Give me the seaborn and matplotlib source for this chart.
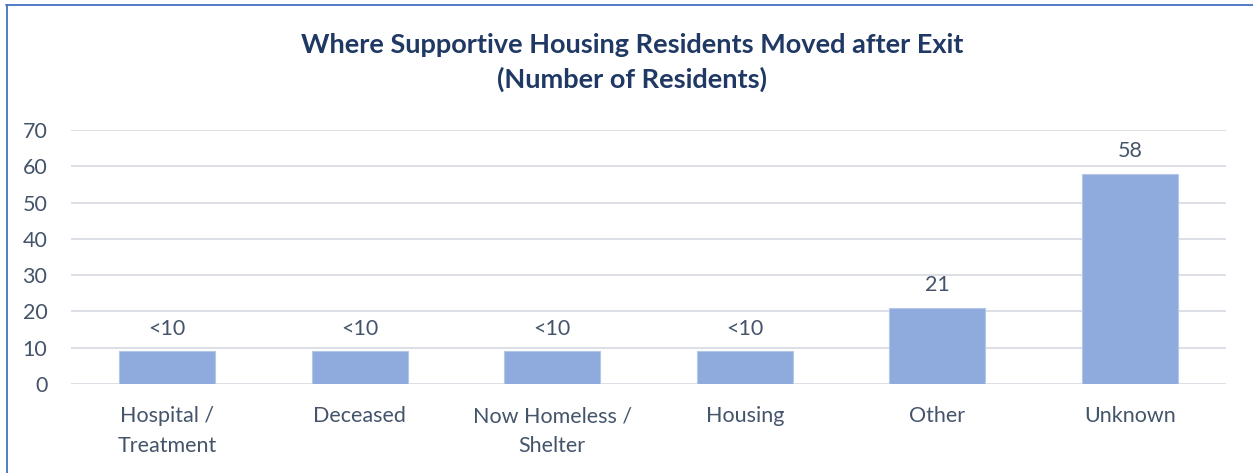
import matplotlib
matplotlib.use("Agg")
import matplotlib.pyplot as plt
import seaborn as sns
import pandas as pd
from matplotlib.lines import Line2D

categories = ["Hospital /\nTreatment", "Deceased", "Now Homeless /\nShelter", "Housing", "Other", "Unknown"]
values = [9, 9, 9, 9, 21, 58]
value_labels = ["<10", "<10", "<10", "<10", "21", "58"]
yticks = [0, 10, 20, 30, 40, 50, 60, 70]

title = "Where Supportive Housing Residents Moved after Exit\n(Number of Residents)"

sns.set_theme(style="white")
plt.rcParams['font.family'] = ['Lato', 'DejaVu Sans']

text_color = "#44546A"
grid_color = "#D9DDE4"
bar_color = "#8FAADC"

df = pd.DataFrame({"category": categories, "value": values})

fig = plt.figure(figsize=(12.53, 4.73), dpi=100)
ax = fig.add_axes([71/1253, 1-384/473, (1226-71)/1253, (384-130)/473])

sns.barplot(data=df, x="category", y="value", color=bar_color, width=0.5,
            edgecolor="#B4C7E7", linewidth=0.8, saturation=1, ax=ax, zorder=3)

ax.set_ylim(0, 70)
ax.set_yticks(yticks)
ax.set_xlim(-0.5, len(categories) - 0.5)
for y in yticks:
    ax.axhline(y, color=grid_color, linewidth=1.3, zorder=1)

for s in ax.spines.values():
    s.set_visible(False)
ax.tick_params(axis="both", length=0, labelsize=15.5, labelcolor=text_color)
ax.tick_params(axis="y", pad=17)
ax.tick_params(axis="x", pad=16)
ax.set_xlabel("")
ax.set_ylabel("")
for lab in ax.get_xticklabels():
    lab.set_linespacing(1.6)

ax.bar_label(ax.containers[0], labels=value_labels, padding=9,
             fontsize=15.5, color=text_color)

fig.text(632/1253, 1-62.5/473, title, ha="center", va="center",
         fontsize=19.5, fontweight="bold", color="#1F3864", linespacing=1.42)

fig.add_artist(Line2D([6/1253, 1], [1-5/473, 1-5/473], color="#4472C4", linewidth=1.3, transform=fig.transFigure))
fig.add_artist(Line2D([7/1253, 7/1253], [0, 1-5/473], color="#4472C4", linewidth=1.3, transform=fig.transFigure))

fig.savefig("out.png", dpi=100, facecolor="white")
